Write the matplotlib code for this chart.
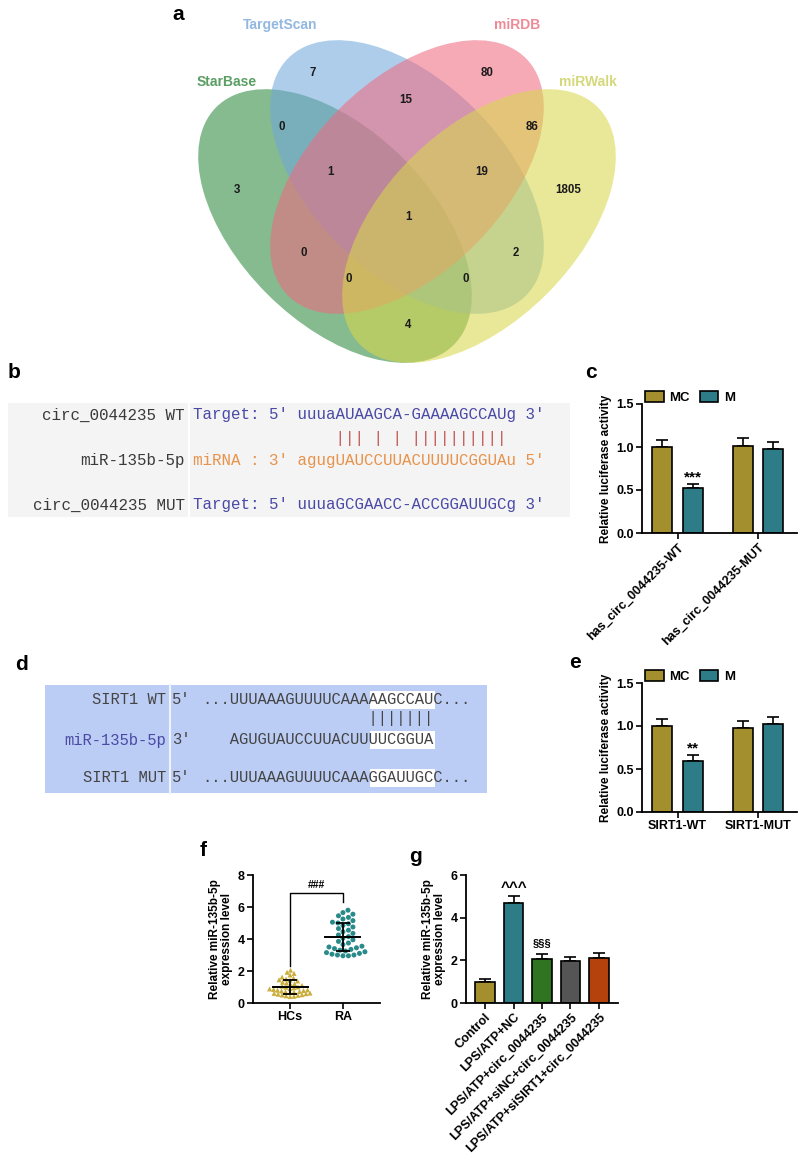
import numpy as np
import matplotlib
matplotlib.use("Agg")
import matplotlib.pyplot as plt
from matplotlib.patches import Ellipse, Rectangle, Patch

plt.rcParams['font.family'] = ['Liberation Sans', 'DejaVu Sans']
MONO = 'Liberation Mono'

W, H = 800, 1160
fig = plt.figure(figsize=(8, 11.6), dpi=100)

# ---------------- data ----------------
# a: venn
venn_names = ["StarBase", "TargetScan", "miRDB", "miRWalk"]
venn_counts = [3, 7, 80, 1805, 0, 15, 86, 1, 19, 1, 0, 2, 0, 0, 4]

# c / e: luciferase
c_groups = ["has_circ_0044235-WT", "has_circ_0044235-MUT"]
c_mc = [1.00, 1.01]
c_mc_err = [0.08, 0.09]
c_m = [0.52, 0.98]
c_m_err = [0.05, 0.08]

e_groups = ["SIRT1-WT", "SIRT1-MUT"]
e_mc = [1.00, 0.98]
e_mc_err = [0.08, 0.08]
e_m = [0.59, 1.02]
e_m_err = [0.07, 0.09]

# f: scatter
f_groups = ["HCs", "RA"]
hcs = [2.05, 1.92, 1.85, 1.75, 1.62, 1.55, 1.50, 1.45, 1.42, 1.38,
       1.30, 1.25, 1.20, 1.15, 1.10, 1.05, 1.00, 0.98, 0.95, 0.90,
       0.88, 0.85, 0.82, 0.80, 0.78, 0.75, 0.72, 0.70, 0.68, 0.65,
       0.62, 0.60, 0.58, 0.55, 0.52, 0.50, 0.48, 0.45, 0.42, 0.40]
ra = [5.80, 5.65, 5.55, 5.45, 5.35, 5.25, 5.15, 5.05, 5.00, 4.95,
      4.85, 4.75, 4.65, 4.55, 4.45, 4.35, 4.25, 4.15, 4.05, 3.95,
      3.85, 3.75, 3.65, 3.55, 3.50, 3.45, 3.40, 3.35, 3.30, 3.25,
      3.20, 3.15, 3.10, 3.05, 3.00, 3.00, 2.95, 2.95]

# g: bars
g_labels = ["Control", "LPS/ATP+NC", "LPS/ATP+circ_0044235",
            "LPS/ATP+siNC+circ_0044235", "LPS/ATP+siSIRT1+circ_0044235"]
g_vals = [1.00, 4.70, 2.08, 1.98, 2.13]
g_err = [0.12, 0.33, 0.22, 0.19, 0.22]

OLIVE = '#a38f2d'
TEAL = '#2e7c87'
g_colors = [OLIVE, TEAL, '#2f7420', '#555555', '#b5410d']


def px_axes(x0, y0, x1, y1):
    return fig.add_axes([x0 / W, 1 - y1 / H, (x1 - x0) / W, (y1 - y0) / H])


def style_axes(ax):
    for s in ['top', 'right']:
        ax.spines[s].set_visible(False)
    for s in ['left', 'bottom']:
        ax.spines[s].set_linewidth(1.3)
    ax.tick_params(direction='out', length=4, width=1.2, labelsize=9, pad=2)
    for t in ax.get_yticklabels() + ax.get_xticklabels():
        t.set_fontweight('bold')


# ---------------- background axes (a, b, d, panel letters) ----------------
ax0 = fig.add_axes([0, 0, 1, 1])
ax0.set_xlim(0, W)
ax0.set_ylim(H, 0)
ax0.axis('off')

# a: venn ellipses
ell_centers = [(335, 226), (407, 177), (407, 177), (479, 226)]
ell_angles = [45, 45, -45, -45]
ell_colors = ['#2a873a', '#6fa8dc', '#f06a80', '#d8d84a']
for (cx, cy), ang, col in zip(ell_centers, ell_angles, ell_colors):
    ax0.add_patch(Ellipse((cx, cy), 336, 192, angle=ang, facecolor=col,
                          edgecolor='none', alpha=0.57))

name_xy = [(227, 82), (280, 25), (517, 25), (588, 82)]
name_colors = ['#5a9e63', '#93b8e0', '#ee8a98', '#d4d87a']
for name, (x, y), col in zip(venn_names, name_xy, name_colors):
    ax0.text(x, y, name, color=col, fontsize=10, weight='bold',
             ha='center', va='center')

count_xy = [(237, 190), (313, 73), (487, 73), (568, 190), (282, 127),
            (406, 100), (532, 127), (331, 172), (482, 172), (408, 217),
            (304, 253), (516, 253), (349, 279), (466, 279), (408, 325)]
for n, (x, y) in zip(venn_counts, count_xy):
    ax0.text(x, y, str(n), fontsize=8.3, weight='bold', color='#1a1a1a',
             ha='center', va='center')

# b: sequence box
fs_b = 11.4
ax0.add_patch(Rectangle((8, 403), 562, 114, facecolor='#f4f4f4', edgecolor='none'))
ax0.plot([189, 189], [403, 517], color='white', lw=1.5)
b_rows = [
    (415, "circ_0044235 WT", "Target: 5' uuuaAUAAGCA-GAAAAGCCAUg 3'", '#4a4aa6'),
    (438, "", " " * 15 + "||| | | ||||||||||", '#c0504d'),
    (460, "miR-135b-5p", "miRNA : 3' agugUAUCCUUACUUUUCGGUAu 5'", '#e8924a'),
    (505, "circ_0044235 MUT", "Target: 5' uuuaGCGAACC-ACCGGAUUGCg 3'", '#4a4aa6'),
]
for y, lab, seq, col in b_rows:
    ax0.text(185, y, lab, family=MONO, fontsize=fs_b, color='#3a3a3a',
             ha='right', va='center')
    ax0.text(193, y, seq, family=MONO, fontsize=fs_b, color=col,
             ha='left', va='center')

# d: sequence box
fs_d = 11.2
cw = 0.6 * fs_d * 100 / 72
ax0.add_patch(Rectangle((45, 685), 442, 108, facecolor='#bccdf5', edgecolor='none'))
ax0.plot([170, 170], [685, 793], color='#eef2ff', lw=1.5)
d_rows = [
    (700, "SIRT1 WT", '#444444', "5'", "...UUUAAAGUUUUCAAAAAGCCAUC...", True),
    (719, "", '#444444', "", " " * 18 + "|||||||", False),
    (740, "miR-135b-5p", '#4a4aa6', "3'", "   AGUGUAUCCUUACUUUUCGGUA", True),
    (778, "SIRT1 MUT", '#444444', "5'", "...UUUAAAGUUUUCAAAGGAUUGCC...", True),
]
seq_x = 202
for y, lab, lcol, end, seq, hl in d_rows:
    if hl:
        ax0.add_patch(Rectangle((seq_x + 18 * cw, y - 9), 7 * cw, 18,
                                facecolor='white', edgecolor='none'))
    ax0.text(166, y, lab, family=MONO, fontsize=fs_d, color=lcol,
             ha='right', va='center')
    ax0.text(172, y, end, family=MONO, fontsize=fs_d, color='#444444',
             ha='left', va='center')
    ax0.text(seq_x, y, seq, family=MONO, fontsize=fs_d, color='#444444',
             ha='left', va='center')

# panel letters
for letter, (x, y) in zip("abcdefg", [(178, 15), (14, 373), (591, 373), (22, 665),
                                      (575, 663), (203, 850), (415, 856)]):
    ax0.text(x, y, letter, fontsize=15, weight='bold', ha='center', va='center')


# ---------------- c / e luciferase panels ----------------
def luc_panel(top, groups, mc, mc_err, m, m_err, star, star_y, rotate):
    ax = px_axes(642, top, 797, top + 129)
    x = np.arange(len(groups))
    for off, v, err, col in [(-0.19, mc, mc_err, OLIVE), (0.19, m, m_err, TEAL)]:
        ax.errorbar(x + off, v, yerr=[np.zeros(len(v)), err], fmt='none',
                    ecolor='black', elinewidth=1.2, capsize=4, capthick=1.2, zorder=1)
        ax.bar(x + off, v, 0.25, color=col, edgecolor='black', lw=1.2, zorder=2)
    ax.text(0.19, star_y, star, ha='center', va='center', fontsize=11, weight='bold')
    ax.set_xlim(-0.441, 1.484)
    ax.set_ylim(0, 1.5)
    ax.set_yticks([0, 0.5, 1.0, 1.5])
    ax.set_yticklabels(['0.0', '0.5', '1.0', '1.5'])
    ax.set_xticks(x)
    if rotate:
        ax.set_xticklabels(groups, rotation=45, ha='right', rotation_mode='anchor')
    else:
        ax.set_xticklabels(groups)
    ax.set_ylabel('Relative luciferase activity', fontsize=8.5, weight='bold', labelpad=3)
    style_axes(ax)
    handles = [Patch(facecolor=OLIVE, edgecolor='black', lw=1.2),
               Patch(facecolor=TEAL, edgecolor='black', lw=1.2)]
    ax.legend(handles, ['MC', 'M'], ncol=2, loc='lower left', bbox_to_anchor=(0.02, 1.0),
              frameon=False, handlelength=1.4, handleheight=0.9, handletextpad=0.4,
              columnspacing=0.8, borderpad=0, borderaxespad=0,
              prop=dict(weight='bold', size=9.5))
    return ax


luc_panel(404, c_groups, c_mc, c_mc_err, c_m, c_m_err, '***', 0.64, True)
luc_panel(683, e_groups, e_mc, e_mc_err, e_m, e_m_err, '**', 0.74, False)


# ---------------- f scatter ----------------
def swarm(vals, ypx, xpx, dpx):
    vals = np.asarray(vals, dtype=float)
    order = np.argsort(vals)
    placed = []
    offs = np.zeros(len(vals))
    steps = np.arange(0, 40, 0.5)
    for i in order:
        y = vals[i] * ypx
        for s in steps:
            ok_c = None
            for c in ([s] if s == 0 else [s, -s]):
                if all((c - px) ** 2 + (y - py) ** 2 >= dpx ** 2 for px, py in placed):
                    ok_c = c
                    break
            if ok_c is not None:
                placed.append((ok_c, y))
                offs[i] = ok_c / xpx
                break
    return offs


axf = px_axes(253, 875, 380, 1003)
for k, (vals, col, mk, d) in enumerate([(hcs, '#c9ae3c', '^', 4.0), (ra, '#2a8a8a', 'o', 5.4)]):
    offs = swarm(vals, 16.0, 53.0, d)
    axf.scatter(k + offs, vals, s=13, marker=mk, color=col, edgecolor='none', zorder=2)
    mu, sd = np.mean(vals), np.std(vals, ddof=1)
    axf.plot([k - 0.33, k + 0.33], [mu, mu], color='black', lw=1.4, zorder=3)
    axf.errorbar([k], [mu], yerr=[sd], fmt='none', ecolor='black', elinewidth=1.3,
                 capsize=5, capthick=1.3, zorder=3)
axf.plot([0, 0, 1, 1], [2.3, 6.9, 6.9, 6.3], color='black', lw=1.0)
axf.text(0.5, 7.05, '###', ha='center', va='bottom', fontsize=7.5, weight='bold')
axf.set_xlim(-0.70, 1.70)
axf.set_ylim(0, 8)
axf.set_yticks([0, 2, 4, 6, 8])
axf.set_xticks([0, 1])
axf.set_xticklabels(f_groups)
axf.set_ylabel('Relative miR-135b-5p\nexpression level', fontsize=8.5, weight='bold',
               labelpad=3, linespacing=1.05)
style_axes(axf)

# ---------------- g bars ----------------
axg = px_axes(466, 875, 618, 1003)
xg = np.arange(len(g_labels))
axg.errorbar(xg, g_vals, yerr=[np.zeros(len(g_vals)), g_err], fmt='none', ecolor='black',
             elinewidth=1.2, capsize=4, capthick=1.2, zorder=1)
axg.bar(xg, g_vals, 0.67, color=g_colors, edgecolor='black', lw=1.2, zorder=2)
axg.text(1, 5.4, '^^^', ha='center', va='center', fontsize=11, weight='bold')
axg.text(2, 2.8, '§§§', ha='center', va='center', fontsize=8, weight='bold')
axg.set_xlim(-0.667, 4.667)
axg.set_ylim(0, 6)
axg.set_yticks([0, 2, 4, 6])
axg.set_xticks(xg)
axg.set_xticklabels(g_labels, rotation=45, ha='right', rotation_mode='anchor')
axg.set_ylabel('Relative miR-135b-5p\nexpression level', fontsize=8.5, weight='bold',
               labelpad=3, linespacing=1.05)
style_axes(axg)

fig.savefig('out.png', dpi=100)
